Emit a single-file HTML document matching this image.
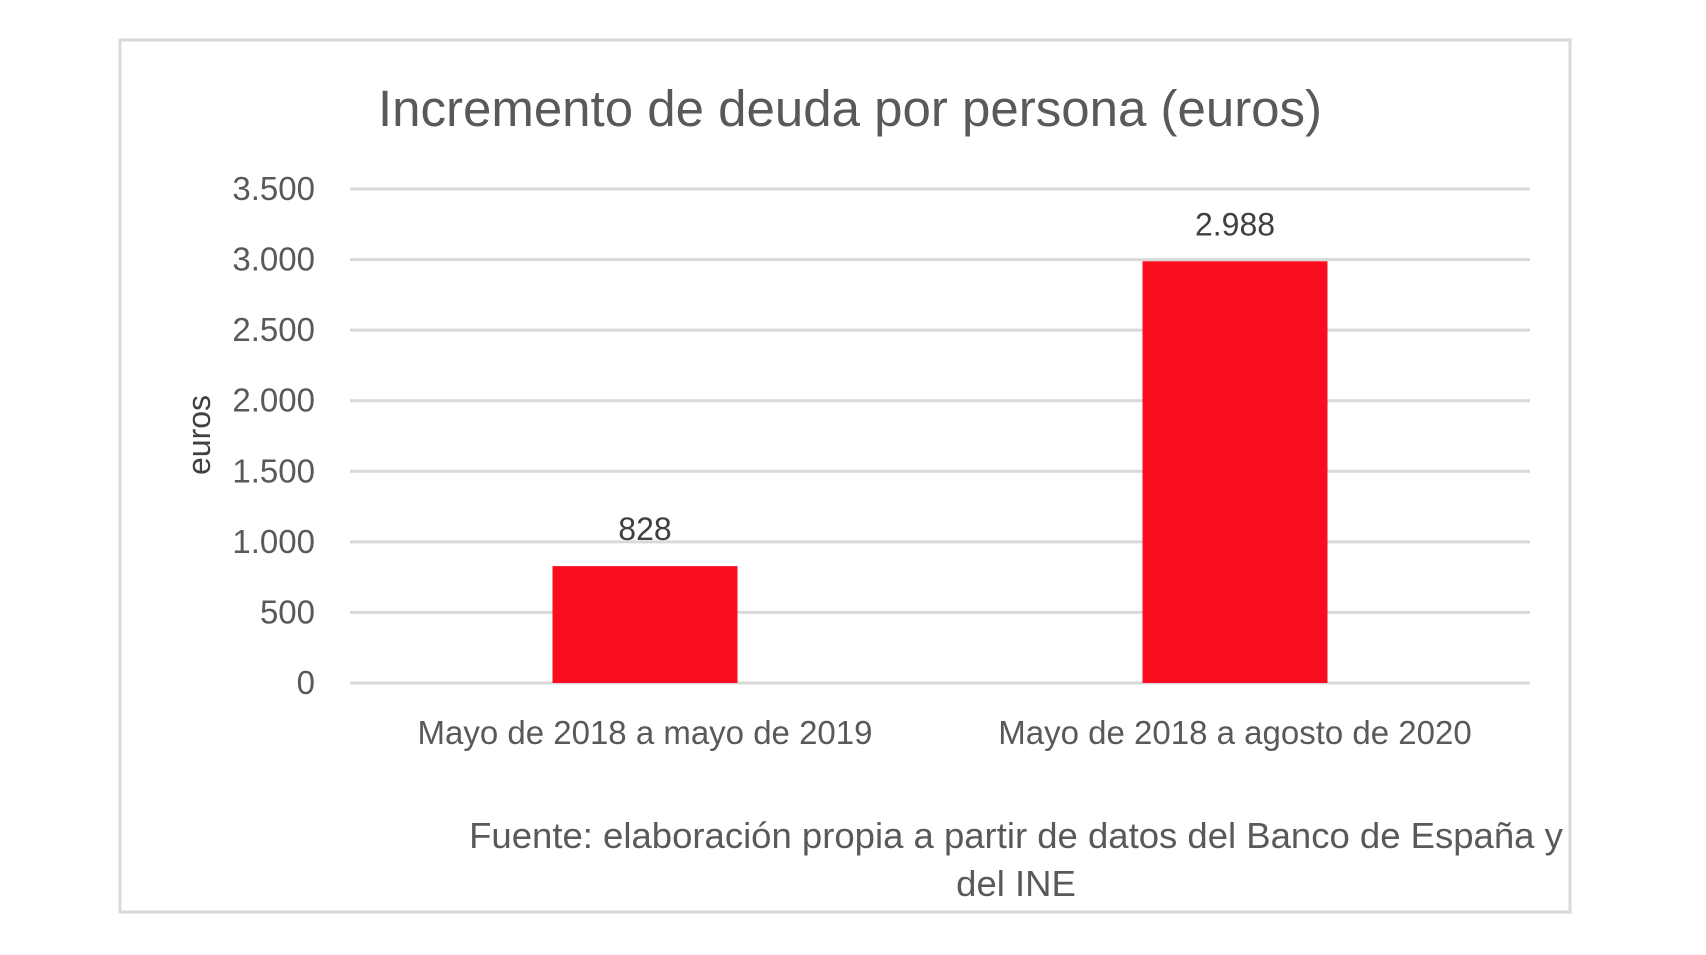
<!DOCTYPE html>
<html><head><meta charset="utf-8"><style>
body{margin:0;width:1706px;height:950px;background:#fff;overflow:hidden;font-family:"Liberation Sans",sans-serif}
</style></head><body>
<svg width="1706" height="950" id="chart">
<rect x="120" y="40" width="1450" height="872" fill="#fff" stroke="#d9d9d9" stroke-width="3"/>
<text x="850" y="126" text-anchor="middle" font-size="51" fill="#595959">Incremento de deuda por persona (euros)</text>
<text transform="translate(210,435) rotate(-90)" text-anchor="middle" font-size="32" fill="#404040">euros</text>
<g id="grid"></g><g id="bars"></g>
<text x="1016" y="848" text-anchor="middle" font-size="36.5" fill="#595959">Fuente: elaboración propia a partir de datos del Banco de España y</text>
<text x="1016" y="896" text-anchor="middle" font-size="36.5" fill="#595959">del INE</text>
</svg>
<script>
const categories=["Mayo de 2018 a mayo de 2019","Mayo de 2018 a agosto de 2020"];
const values=[828,2988];
const valueLabels=["828","2.988"];
const ticks=[0,500,1000,1500,2000,2500,3000,3500];
const tickLabels=["0","500","1.000","1.500","2.000","2.500","3.000","3.500"];
const NS="http://www.w3.org/2000/svg";
const x0=350,x1=1530,y0=683,y1=189,maxV=3500;
const y=v=>y0-(v/maxV)*(y0-y1);
const band=(x1-x0)/categories.length;
const cx=i=>x0+band*(i+0.5);
function mk(tag,attrs,parent,text){const e=document.createElementNS(NS,tag);for(const k in attrs)e.setAttribute(k,attrs[k]);if(text!==undefined)e.textContent=text;parent.appendChild(e);return e;}
const grid=document.getElementById('grid'),bars=document.getElementById('bars');
ticks.forEach((t,i)=>{
 const l=mk('line',{x1:x0,x2:x1,y1:y(t),y2:y(t),stroke:'#d9d9d9','stroke-width':3},grid);
 
 
 const tx=mk('text',{x:315,y:y(t)+11,'text-anchor':'end','font-size':33,fill:'#595959'},grid,tickLabels[i]);
 
 
});
const bw=185;
values.forEach((v,i)=>{
 const r=mk('rect',{x:cx(i)-bw/2,y:y(v),width:bw,height:y0-y(v),fill:'#fa0d1e'},bars);
 
 
 const lb=mk('text',{x:cx(i),y:y(v)-26,'text-anchor':'middle','font-size':32,fill:'#404040'},bars,valueLabels[i]);
 
 
 const cl=mk('text',{x:cx(i),y:744,'text-anchor':'middle','font-size':33,fill:'#595959'},bars,categories[i]);
 
 
});
</script>
</body></html>
